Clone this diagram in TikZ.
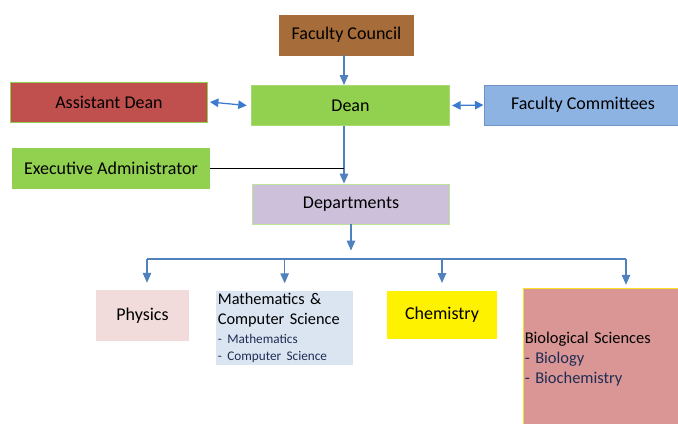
\documentclass[tikz,border=0pt]{standalone}
\usepackage{fontspec}
\setmainfont{Carlito}
\usetikzlibrary{arrows.meta}
\definecolor{fcbrown}{RGB}{166,108,58}
\definecolor{deangreen}{RGB}{146,208,80}
\definecolor{asstred}{RGB}{192,80,77}
\definecolor{combluefill}{RGB}{141,179,226}
\definecolor{comblueline}{RGB}{112,146,196}
\definecolor{deptlilac}{RGB}{204,192,218}
\definecolor{physpink}{RGB}{242,220,219}
\definecolor{mathblue}{RGB}{219,229,241}
\definecolor{biorose}{RGB}{217,150,148}
\definecolor{linkblue}{RGB}{79,129,189}
\definecolor{twoblue}{RGB}{58,122,208}
\definecolor{subnavy}{RGB}{31,45,85}
\tikzset{
  unit/.style={draw=#1, line width=0.6pt, minimum height=28.5pt, font=\fontsize{12.8}{15}\selectfont, inner sep=2pt},
  link/.style={draw=linkblue, line width=0.8pt, -{Triangle[width=6pt,length=7pt]}},
  twoway/.style={draw=twoblue, line width=0.9pt, {Triangle[width=6pt,length=6pt]}-{Triangle[width=6pt,length=6pt]}},
  bus/.style={draw=linkblue, line width=0.8pt}
}
\begin{document}
\begin{tikzpicture}[x=0.025cm,y=-0.025cm]
 \useasboundingbox (0,0) rectangle (678,423);
 % top levels
 \node[unit=fcbrown, fill=fcbrown, minimum width=95.5pt] (council) at (346.5,35) {Faculty Council};
 \node[unit=deangreen!80!white, fill=deangreen, minimum width=141pt] (dean) at (350.5,105.5) {Dean};
 \node[unit=deangreen, fill=asstred, minimum width=140pt] (asst) at (109,102) {Assistant Dean};
 \node[unit=comblueline, fill=combluefill, minimum width=140pt] (cmte) at (583,105) {Faculty Committees};
 \node[unit=deangreen, fill=deangreen, minimum width=140pt] (exec) at (111,168) {Executive Administrator};
 \node[unit=deangreen!60!white, fill=deptlilac, minimum width=140pt] (dept) at (351,204) {Departments};
 % departments
 \node[unit=physpink, fill=physpink, minimum width=66pt, minimum height=35pt] (phys) at (142.5,315.5) {Physics};
 \node[unit=mathblue, fill=mathblue, minimum width=97pt, minimum height=52pt, text width=95pt, inner sep=0.8pt, align=left, anchor=north west,
  font=\fontsize{11.6}{14.2}\selectfont] (math) at (216,291)
  {Mathematics \&\\Computer Science\\[-1pt]
   {\fontsize{9.4}{12}\selectfont\color{subnavy}- Mathematics}\\[-2pt]
   {\fontsize{9.4}{12}\selectfont\color{subnavy}- Computer Science}};
 \node[unit=yellow, fill=yellow, minimum width=77pt, minimum height=34pt] (chem) at (442,315) {Chemistry};
 \node[draw=yellow!80!biorose, fill=biorose, line width=0.6pt, minimum width=146pt, minimum height=101pt, text width=144pt, inner sep=1pt, align=left,
  font=\fontsize{11.7}{14.2}\selectfont] (bio) at (626,359)
  {Biological Sciences\\{\color{subnavy}- Biology}\\{\color{subnavy}- Biochemistry}};
 % connectors
 \coordinate (spine) at (344,0);
 \coordinate (fork) at (351,259);
 \draw[link] (council.south -| spine) -- (dean.north -| spine);
 \draw[link] (dean.south -| spine) -- (dept.north -| spine);
 \draw[black, line width=0.6pt] (exec.east) -- (exec.east -| spine);
 \draw[twoway] ([xshift=1.5pt]asst.east) -- ([xshift=-3pt]dean.west);
 \draw[twoway] ([xshift=1.5pt]dean.east) -- ([xshift=-0.5pt]cmte.west);
 \draw[link, shorten >=6pt] (dept.south -| fork) -- (fork);
 \draw[bus] (fork -| 147,0) -- (fork -| bio.north);
 \draw[link] (fork -| 147,0) -- ([yshift=5.5pt]phys.north -| 147,0);
 \draw[link] (fork -| math.north) -- ([yshift=5.5pt]math.north);
 \draw[link] (fork -| chem.north) -- ([yshift=5.5pt]chem.north);
 \draw[link] (fork -| bio.north) -- ([yshift=2pt]bio.north);
\end{tikzpicture}
\end{document}
